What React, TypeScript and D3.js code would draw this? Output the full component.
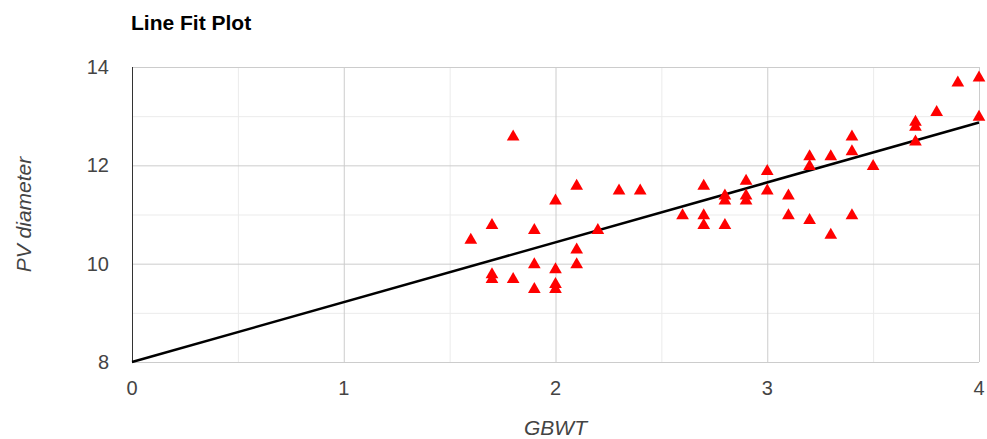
import React, { useEffect, useRef } from "react";
import * as d3 from "d3";

// GBWT / PV diameter observations
const gbwt = [
  1.6, 1.7, 1.7, 1.7, 1.8, 1.8, 1.9, 1.9, 1.9, 2.0, 2.0, 2.0, 2.0,
  2.1, 2.1, 2.1, 2.2, 2.3, 2.4, 2.6, 2.7, 2.7, 2.7, 2.8, 2.8, 2.8,
  2.9, 2.9, 2.9, 3.0, 3.0, 3.1, 3.1, 3.2, 3.2, 3.2, 3.3, 3.3, 3.4,
  3.4, 3.4, 3.5, 3.7, 3.7, 3.7, 3.8, 3.9, 4.0, 4.0,
];
const pvDiameter = [
  10.5, 10.8, 9.8, 9.7, 12.6, 9.7, 10.7, 10.0, 9.5, 11.3, 9.9, 9.6, 9.5,
  11.6, 10.3, 10.0, 10.7, 11.5, 11.5, 11.0, 11.6, 11.0, 10.8, 10.8, 11.4, 11.3,
  11.7, 11.4, 11.3, 11.9, 11.5, 11.4, 11.0, 12.2, 12.0, 10.9, 12.2, 10.6, 12.6,
  12.3, 11.0, 12.0, 12.9, 12.8, 12.5, 13.1, 13.7, 13.8, 13.0,
];
// fitted line
const fitX = [0, 4];
const fitY = [8.0, 12.87];

const xTicks = [0, 1, 2, 3, 4];
const yTicks = [8, 10, 12, 14];
const xMinor = [0.5, 1.5, 2.5, 3.5];
const yMinor = [9, 11, 13];

const width = 987;
const height = 439;
const margin = { top: 67, right: 7, bottom: 77, left: 132 };

const App = () => {
  const svgRef = useRef<SVGSVGElement>(null);

  useEffect(() => {
    const svg = d3.select(svgRef.current);
    svg.selectAll("*").remove();

    const x = d3.scaleLinear().domain([0, 4]).range([margin.left, width - margin.right - 1]);
    const y = d3.scaleLinear().domain([8, 14]).range([height - margin.bottom, margin.top]);
    const font = "'Liberation Sans', Arial, sans-serif";

    const grid = svg.append("g");
    // minor gridlines
    grid.selectAll(".vminor").data(xMinor).join("line")
      .attr("x1", (d) => x(d) + 0.5).attr("x2", (d) => x(d) + 0.5)
      .attr("y1", y(14)).attr("y2", y(8))
      .attr("stroke", "#ebebeb");
    grid.selectAll(".hminor").data(yMinor).join("line")
      .attr("x1", x(0)).attr("x2", x(4))
      .attr("y1", (d) => y(d) + 0.5).attr("y2", (d) => y(d) + 0.5)
      .attr("stroke", "#ebebeb");
    // major gridlines
    grid.selectAll(".vmajor").data(xTicks.slice(1)).join("line")
      .attr("x1", (d) => x(d) + 0.5).attr("x2", (d) => x(d) + 0.5)
      .attr("y1", y(14)).attr("y2", y(8))
      .attr("stroke", "#cccccc");
    grid.selectAll(".hmajor").data(yTicks).join("line")
      .attr("x1", x(0)).attr("x2", x(4))
      .attr("y1", (d) => y(d) + 0.5).attr("y2", (d) => y(d) + 0.5)
      .attr("stroke", "#cccccc");
    // baseline at x = 0
    svg.append("line")
      .attr("x1", x(0) + 0.5).attr("x2", x(0) + 0.5)
      .attr("y1", y(14)).attr("y2", y(8) + 1)
      .attr("stroke", "#333333");

    // tick labels
    svg.append("g").selectAll("text").data(yTicks).join("text")
      .attr("x", 109).attr("y", (d) => y(d))
      .attr("dy", "0.35em").attr("text-anchor", "end")
      .attr("font-family", font).attr("font-size", 20).attr("fill", "#444444")
      .text((d) => d);
    svg.append("g").selectAll("text").data(xTicks).join("text")
      .attr("x", (d) => x(d)).attr("y", 395)
      .attr("text-anchor", "middle")
      .attr("font-family", font).attr("font-size", 20).attr("fill", "#444444")
      .text((d) => d);

    // fit line
    const fitLine = d3.line<number>()
      .x((d) => x(d))
      .y((d, i) => y(fitY[i]));
    svg.append("path")
      .attr("d", fitLine(fitX))
      .attr("fill", "none")
      .attr("stroke", "#000000")
      .attr("stroke-width", 2.5);

    // points
    const tri = d3.symbol().type(d3.symbolTriangle).size(70);
    svg.append("g").selectAll("path").data(gbwt).join("path")
      .attr("transform", (d, i) => `translate(${x(d)},${y(pvDiameter[i]) + 1})`)
      .attr("d", tri)
      .attr("fill", "#ff0000");

    // titles
    svg.append("text")
      .attr("x", 131).attr("y", 30)
      .attr("font-family", font).attr("font-size", 21).attr("font-weight", "bold")
      .attr("fill", "#000000")
      .text("Line Fit Plot");
    svg.append("text")
      .attr("x", (x(0) + x(4)) / 2).attr("y", 435)
      .attr("text-anchor", "middle")
      .attr("font-family", font).attr("font-size", 21).attr("font-style", "italic")
      .attr("fill", "#444444")
      .text("GBWT");
    svg.append("text")
      .attr("transform", `translate(31,${(y(8) + y(14)) / 2}) rotate(-90)`)
      .attr("text-anchor", "middle")
      .attr("font-family", font).attr("font-size", 21).attr("font-style", "italic")
      .attr("fill", "#444444")
      .text("PV diameter");
  }, []);

  return (
    <div style={{ position: "absolute", left: 0, top: 0 }}>
      <svg ref={svgRef} width={width} height={height} style={{ display: "block", background: "#ffffff" }} />
    </div>
  );
};

export default App;
